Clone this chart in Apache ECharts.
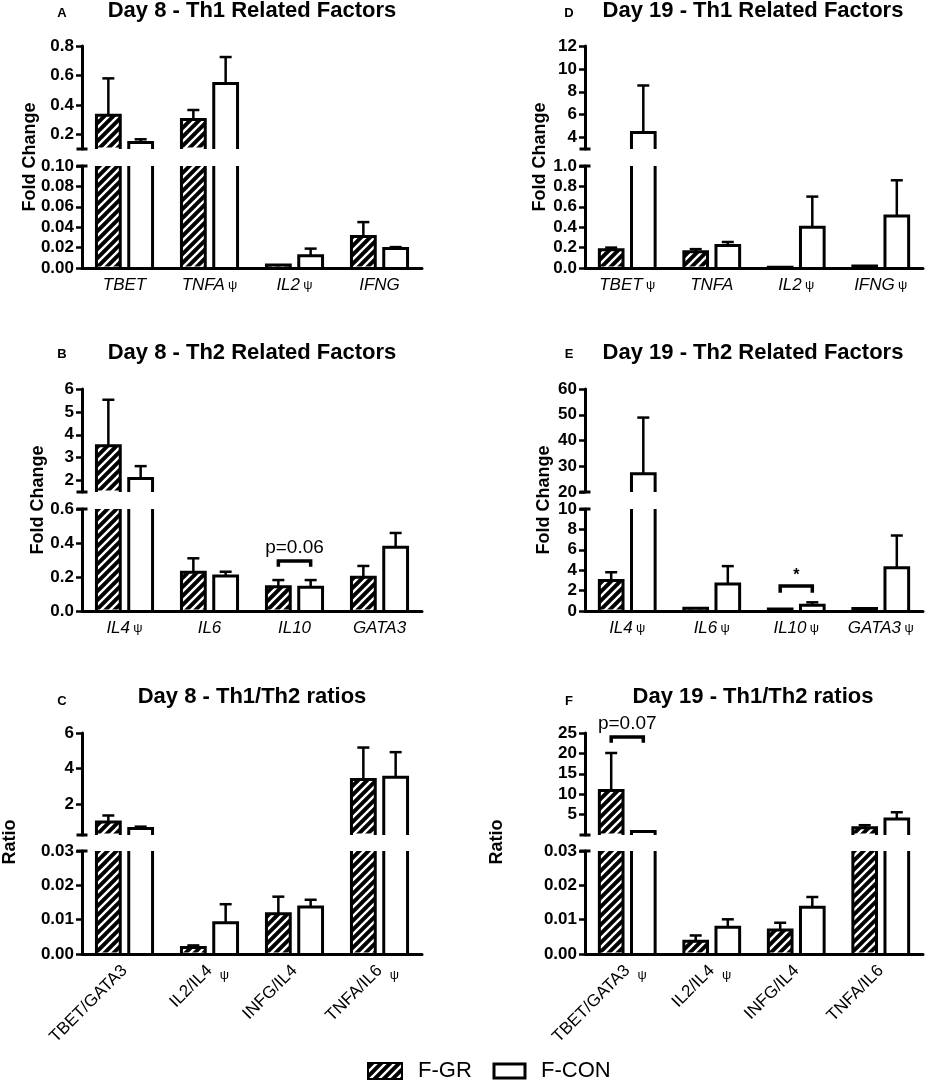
<!DOCTYPE html>
<html lang="en">
<head>
<meta charset="UTF-8">
<title>Th1 / Th2 factors</title>
<script src="https://cdn.jsdelivr.net/npm/echarts@6/dist/echarts.min.js"></script>
<style>
    html, body { margin: 0; padding: 0; background: #fff; }
    #main { width: 928px; height: 1085px; }
</style>
</head>
<body>
<div id="main"></div>
<script>
// values: bar = mean, err = top of the whisker
var catsTh1 = ['TBET', 'TNFA', 'IL2', 'IFNG'];
var catsTh2 = ['IL4', 'IL6', 'IL10', 'GATA3'];
var catsRatio = ['TBET/GATA3', 'IL2/IL4', 'INFG/IL4', 'TNFA/IL6'];

// A - Day 8 Th1
var psiA = [0, 1, 1, 0];
var grA = [0.33, 0.30, 0.003, 0.031];
var grErrA = [0.58, 0.365, 0.003, 0.045];
var conA = [0.145, 0.545, 0.012, 0.019];
var conErrA = [0.166, 0.725, 0.019, 0.0205];
var upperA = [0.1, 0.8], upTicksA = [0.2, 0.4, 0.6, 0.8], lowerA = [0, 0.1, 0.02];

// D - Day 19 Th1
var psiD = [1, 0, 1, 1];
var grD = [0.18, 0.16, 0.008, 0.02];
var grErrD = [0.2, 0.185, 0.008, 0.02];
var conD = [4.45, 0.22, 0.40, 0.51];
var conErrD = [8.55, 0.255, 0.70, 0.86];
var upperD = [3, 12], upTicksD = [4, 6, 8, 10, 12], lowerD = [0, 1, 0.2];

// B - Day 8 Th2
var psiB = [1, 0, 0, 0];
var grB = [3.52, 0.228, 0.143, 0.198];
var grErrB = [5.53, 0.31, 0.182, 0.265];
var conB = [2.09, 0.206, 0.139, 0.375];
var conErrB = [2.63, 0.231, 0.182, 0.459];
var upperB = [1.5, 6], upTicksB = [2, 3, 4, 5, 6], lowerB = [0, 0.6, 0.2];

// E - Day 19 Th2
var psiE = [1, 1, 1, 1];
var grE = [3.0, 0.26, 0.2, 0.25];
var grErrE = [3.8, 0.26, 0.2, 0.25];
var conE = [27.1, 2.65, 0.56, 4.25];
var conErrE = [48.9, 4.4, 0.85, 7.4];
var upperE = [20, 60], upTicksE = [20, 30, 40, 50, 60], lowerE = [0, 10, 2];

// C - Day 8 ratios
var psiC = [0, 1, 0, 1];
var grC = [0.98, 0.0019, 0.0117, 3.38];
var grErrC = [1.35, 0.0025, 0.0167, 5.18];
var conC = [0.62, 0.0091, 0.0137, 3.51];
var conErrC = [0.72, 0.0145, 0.0158, 4.92];
var upperC = [0.25, 6], upTicksC = [2, 4, 6], lowerC = [0, 0.03, 0.01];

// F - Day 19 ratios
var psiF = [1, 1, 0, 0];
var grF = [10.9, 0.0037, 0.007, 1.76];
var grErrF = [20.1, 0.0054, 0.0091, 2.4];
var conF = [0.87, 0.0078, 0.0136, 3.95];
var conErrF = [0.87, 0.0101, 0.0166, 5.57];
var upperF = [0, 25], upTicksF = [5, 10, 15, 20, 25], lowerF = [0, 0.03, 0.01];

// panel, category, bracket y, leg end y, text y, which half, text
var notes = [
    ['B', 2, 0.294, 0.26, 0.37, 'lo', 'p=0.06'],
    ['E', 2, 2.45, 1.8, 3.5, 'lo', '*'],
    ['F', 0, 24.0, 22.6, 27.2, 'up', 'p=0.07']
];

var FONT = '"Liberation Sans", Arial, sans-serif';

var panels = [
    {key: 'A', col: 0, row: 0, title: 'Day 8 - Th1 Related Factors', cats: catsTh1, psi: psiA,
        gr: grA, grErr: grErrA, con: conA, conErr: conErrA, upper: upperA, upTicks: upTicksA, lower: lowerA,
        dec: [1, 2], yName: 'Fold Change', nameX: 30},
    {key: 'D', col: 1, row: 0, title: 'Day 19 - Th1 Related Factors', cats: catsTh1, psi: psiD,
        gr: grD, grErr: grErrD, con: conD, conErr: conErrD, upper: upperD, upTicks: upTicksD, lower: lowerD,
        dec: [0, 1], yName: 'Fold Change', nameX: 540},
    {key: 'B', col: 0, row: 1, title: 'Day 8 - Th2 Related Factors', cats: catsTh2, psi: psiB,
        gr: grB, grErr: grErrB, con: conB, conErr: conErrB, upper: upperB, upTicks: upTicksB, lower: lowerB,
        dec: [0, 1], yName: 'Fold Change', nameX: 38},
    {key: 'E', col: 1, row: 1, title: 'Day 19 - Th2 Related Factors', cats: catsTh2, psi: psiE,
        gr: grE, grErr: grErrE, con: conE, conErr: conErrE, upper: upperE, upTicks: upTicksE, lower: lowerE,
        dec: [0, 0], yName: 'Fold Change', nameX: 544},
    {key: 'C', col: 0, row: 2, title: 'Day 8 - Th1/Th2 ratios', cats: catsRatio, psi: psiC,
        gr: grC, grErr: grErrC, con: conC, conErr: conErrC, upper: upperC, upTicks: upTicksC, lower: lowerC,
        dec: [0, 2], yName: 'Ratio', nameX: 10, tilted: true},
    {key: 'F', col: 1, row: 2, title: 'Day 19 - Th1/Th2 ratios', cats: catsRatio, psi: psiF,
        gr: grF, grErr: grErrF, con: conF, conErr: conErrF, upper: upperF, upTicks: upTicksF, lower: lowerF,
        dec: [0, 2], yName: 'Ratio', nameX: 497, tilted: true}
];

var cols = [
    {left: 82, width: 340, titleX: 252, letterX: 62},
    {left: 585, width: 338, titleX: 753, letterX: 569}
];
var rows = [
    {titleY: 11, letterY: 13, upTop: 46, upH: 103, loTop: 166, loH: 102, nameY: 157},
    {titleY: 353, letterY: 354, upTop: 389, upH: 103, loTop: 509, loH: 102, nameY: 500},
    {titleY: 697, letterY: 701, upTop: 733, upH: 102, loTop: 851, loH: 103, nameY: 842}
];

// black with white "/" stripes
function makeHatch() {
    var c = document.createElement('canvas');
    c.width = 9; c.height = 9;
    var g = c.getContext('2d');
    g.fillStyle = '#000';
    g.fillRect(0, 0, 9, 9);
    g.strokeStyle = '#fff';
    g.lineWidth = 2.4;
    g.beginPath();
    g.moveTo(-2, 11); g.lineTo(11, -2);
    g.moveTo(-2, 2); g.lineTo(2, -2);
    g.moveTo(7, 11); g.lineTo(11, 7);
    g.stroke();
    return c;
}
var hatch = {image: makeHatch(), repeat: 'repeat'};

function seg(x1, y1, x2, y2, w) {
    return {type: 'line', shape: {x1: x1, y1: y1, x2: x2, y2: y2},
        style: {stroke: '#000', lineWidth: w || 3, lineCap: 'butt'}};
}

// one half (upper or lower) of a broken bar, open where it is cut
function barRender(side, fill, lo, hi, isUpper, brk) {
    return function (params, api) {
        var i = api.value(0), v = api.value(1), e = api.value(2);
        if (isUpper && (v <= brk || v <= lo)) return null;
        var band = api.size([1, 0])[0];
        var base = api.coord([i, lo]);
        var cx = base[0] + side * band * 0.19;
        var w = band * 0.28;
        var x0 = cx - w / 2, x1 = cx + w / 2;
        var yb = base[1];
        var cut = v > hi;
        var yt = api.coord([i, Math.min(v, hi)])[1];
        var kids = [{type: 'rect', shape: {x: x0, y: yt, width: w, height: Math.max(0, yb - yt - 1.5)},
            style: {fill: fill}}];
        if (cut) {
            kids.push(seg(x0, yb, x0, yt), seg(x1, yb, x1, yt));
        } else {
            kids.push({type: 'polyline', shape: {points: [[x0, yb], [x0, yt], [x1, yt], [x1, yb]]},
                style: {stroke: '#000', lineWidth: 3, fill: null, lineJoin: 'miter'}});
            if (e > v) {
                var ye = api.coord([i, Math.min(e, hi)])[1];
                kids.push(seg(cx, yt, cx, ye, 2.5));
                if (e <= hi) kids.push(seg(cx - 6, ye, cx + 6, ye, 2.5));
            }
        }
        return {type: 'group', children: kids};
    };
}

function fmt(d) {
    return function (v) { return Number(v).toFixed(d); };
}

var tickLabel = {color: '#000', fontSize: 17, fontWeight: 'bold', fontFamily: FONT};
var grids = [], xAxes = [], yAxes = [], series = [], titles = [], graphics = [];

panels.forEach(function (p) {
    var c = cols[p.col], r = rows[p.row];
    var gUp = grids.length;
    grids.push({left: c.left, width: c.width, top: r.upTop, height: r.upH, outerBoundsMode: 'none'});
    var gLo = grids.length;
    grids.push({left: c.left, width: c.width, top: r.loTop, height: r.loH, outerBoundsMode: 'none'});

    xAxes.push({gridIndex: gUp, type: 'category', data: p.cats, show: false});
    var xLabel;
    if (p.tilted) {
        xLabel = {interval: 0, rotate: 45, margin: 14, color: '#000', fontSize: 17, fontFamily: FONT};
    } else {
        xLabel = {
            interval: 0, margin: 9,
            formatter: function (v, idx) { return '{n|' + v + '}' + (p.psi[idx] ? ' {s|ψ}' : ''); },
            rich: {
                n: {fontStyle: 'italic', fontSize: 17, color: '#000', fontFamily: FONT},
                s: {fontSize: 13, color: '#000', fontFamily: FONT}
            }
        };
    }
    xAxes.push({
        gridIndex: gLo, type: 'category', data: p.cats,
        axisLine: {lineStyle: {color: '#000', width: 3}},
        axisTick: {alignWithLabel: true, interval: 0, length: 6, lineStyle: {color: '#000', width: 2.5}},
        axisLabel: xLabel
    });

    yAxes.push({
        gridIndex: gUp, type: 'value', min: p.upper[0], max: p.upper[1],
        axisLine: {show: true, symbol: ['rect', 'none'], symbolSize: [11, 3], lineStyle: {color: '#000', width: 3}},
        axisTick: {show: true, length: 6, customValues: p.upTicks, lineStyle: {color: '#000', width: 2.5}},
        axisLabel: Object.assign({customValues: p.upTicks, margin: 8, formatter: fmt(p.dec[0])}, tickLabel),
        splitLine: {show: false}
    });
    yAxes.push({
        gridIndex: gLo, type: 'value', min: p.lower[0], max: p.lower[1], interval: p.lower[2],
        axisLine: {show: true, symbol: ['none', 'rect'], symbolSize: [11, 3], lineStyle: {color: '#000', width: 3}},
        axisTick: {show: true, length: 6, lineStyle: {color: '#000', width: 2.5}},
        axisLabel: Object.assign({margin: 8, formatter: fmt(p.dec[1])}, tickLabel),
        splitLine: {show: false}
    });

    var groups = [
        {name: 'F-GR', side: -1, fill: hatch, vals: p.gr, errs: p.grErr},
        {name: 'F-CON', side: 1, fill: '#fff', vals: p.con, errs: p.conErr}
    ];
    groups.forEach(function (g) {
        var data = p.cats.map(function (_, i) { return [i, g.vals[i], g.errs[i]]; });
        series.push({
            type: 'custom', name: g.name, xAxisIndex: gUp, yAxisIndex: gUp, data: data,
            encode: {x: 0, y: 1}, clip: false, silent: true, z: 3,
            renderItem: barRender(g.side, g.fill, p.upper[0], p.upper[1], true, p.lower[1])
        });
        series.push({
            type: 'custom', name: g.name, xAxisIndex: gLo, yAxisIndex: gLo, data: data,
            encode: {x: 0, y: 1}, clip: false, silent: true, z: 3,
            renderItem: barRender(g.side, g.fill, p.lower[0], p.lower[1], false, null)
        });
    });

    // upright psi marks beside the tilted labels
    if (p.tilted) {
        var marks = [];
        p.psi.forEach(function (f, i) { if (f) marks.push([i, 0]); });
        series.push({
            type: 'custom', xAxisIndex: gLo, yAxisIndex: gLo, data: marks, clip: false, silent: true,
            encode: {x: 0, y: 1},
            renderItem: function (params, api) {
                var pt = api.coord([api.value(0), 0]);
                return {type: 'text', x: pt[0] + 15, y: pt[1] + 21,
                    style: {text: 'ψ', fill: '#000', fontSize: 13, fontFamily: FONT,
                        align: 'center', verticalAlign: 'middle', textAlign: 'center', textVerticalAlign: 'middle'}};
            }
        });
    }

    notes.filter(function (n) { return n[0] === p.key; }).forEach(function (n) {
        var g = n[5] === 'up' ? gUp : gLo;
        series.push({
            type: 'custom', xAxisIndex: g, yAxisIndex: g, data: [[n[1], n[2], n[3], n[4]]],
            encode: {x: 0, y: 1}, clip: false, silent: true, z: 4,
            renderItem: function (params, api) {
                var band = api.size([1, 0])[0];
                var pt = api.coord([api.value(0), api.value(1)]);
                var xa = pt[0] - band * 0.19, xb = pt[0] + band * 0.19;
                var yl = api.coord([api.value(0), api.value(2)])[1];
                var ty = api.coord([api.value(0), api.value(3)])[1];
                return {type: 'group', children: [
                    {type: 'polyline', shape: {points: [[xa, yl], [xa, pt[1]], [xb, pt[1]], [xb, yl]]},
                        style: {stroke: '#000', lineWidth: 3.5, fill: null}},
                    {type: 'text', x: pt[0], y: ty,
                        style: {text: n[6], fill: '#000', fontSize: n[6] === '*' ? 16 : 19,
                            fontWeight: n[6] === '*' ? 'bold' : 'normal', fontFamily: FONT,
                            align: 'center', verticalAlign: 'middle', textAlign: 'center', textVerticalAlign: 'middle'}}
                ]};
            }
        });
    });

    titles.push({text: p.title, left: c.titleX, top: r.titleY, textAlign: 'center', textVerticalAlign: 'middle',
        padding: 0, textStyle: {fontSize: 22, fontWeight: 'bold', color: '#000', fontFamily: FONT}});
    titles.push({text: p.key, left: c.letterX, top: r.letterY, textAlign: 'center', textVerticalAlign: 'middle',
        padding: 0, textStyle: {fontSize: 13, fontWeight: 'bold', color: '#000', fontFamily: FONT}});

    graphics.push({type: 'text', x: p.nameX, y: r.nameY, rotation: Math.PI / 2,
        style: {text: p.yName, fill: '#000', font: 'bold 18px ' + FONT,
            align: 'center', verticalAlign: 'middle', textAlign: 'center', textVerticalAlign: 'middle'}});
});

// legend
graphics.push(
    {type: 'rect', shape: {x: 368, y: 1063, width: 34, height: 16}, style: {fill: hatch, stroke: '#000', lineWidth: 2}},
    {type: 'text', x: 418, y: 1071, style: {text: 'F-GR', fill: '#000', font: '22px ' + FONT,
        align: 'left', verticalAlign: 'middle', textAlign: 'left', textVerticalAlign: 'middle'}},
    {type: 'rect', shape: {x: 494, y: 1064, width: 31, height: 14}, style: {fill: '#fff', stroke: '#000', lineWidth: 3}},
    {type: 'text', x: 541, y: 1071, style: {text: 'F-CON', fill: '#000', font: '22px ' + FONT,
        align: 'left', verticalAlign: 'middle', textAlign: 'left', textVerticalAlign: 'middle'}}
);

var myChart = echarts.init(document.getElementById('main'));
myChart.setOption({
    animation: false,
    backgroundColor: '#fff',
    textStyle: {fontFamily: FONT},
    title: titles,
    grid: grids,
    xAxis: xAxes,
    yAxis: yAxes,
    series: series,
    graphic: graphics
});
</script>
</body>
</html>
